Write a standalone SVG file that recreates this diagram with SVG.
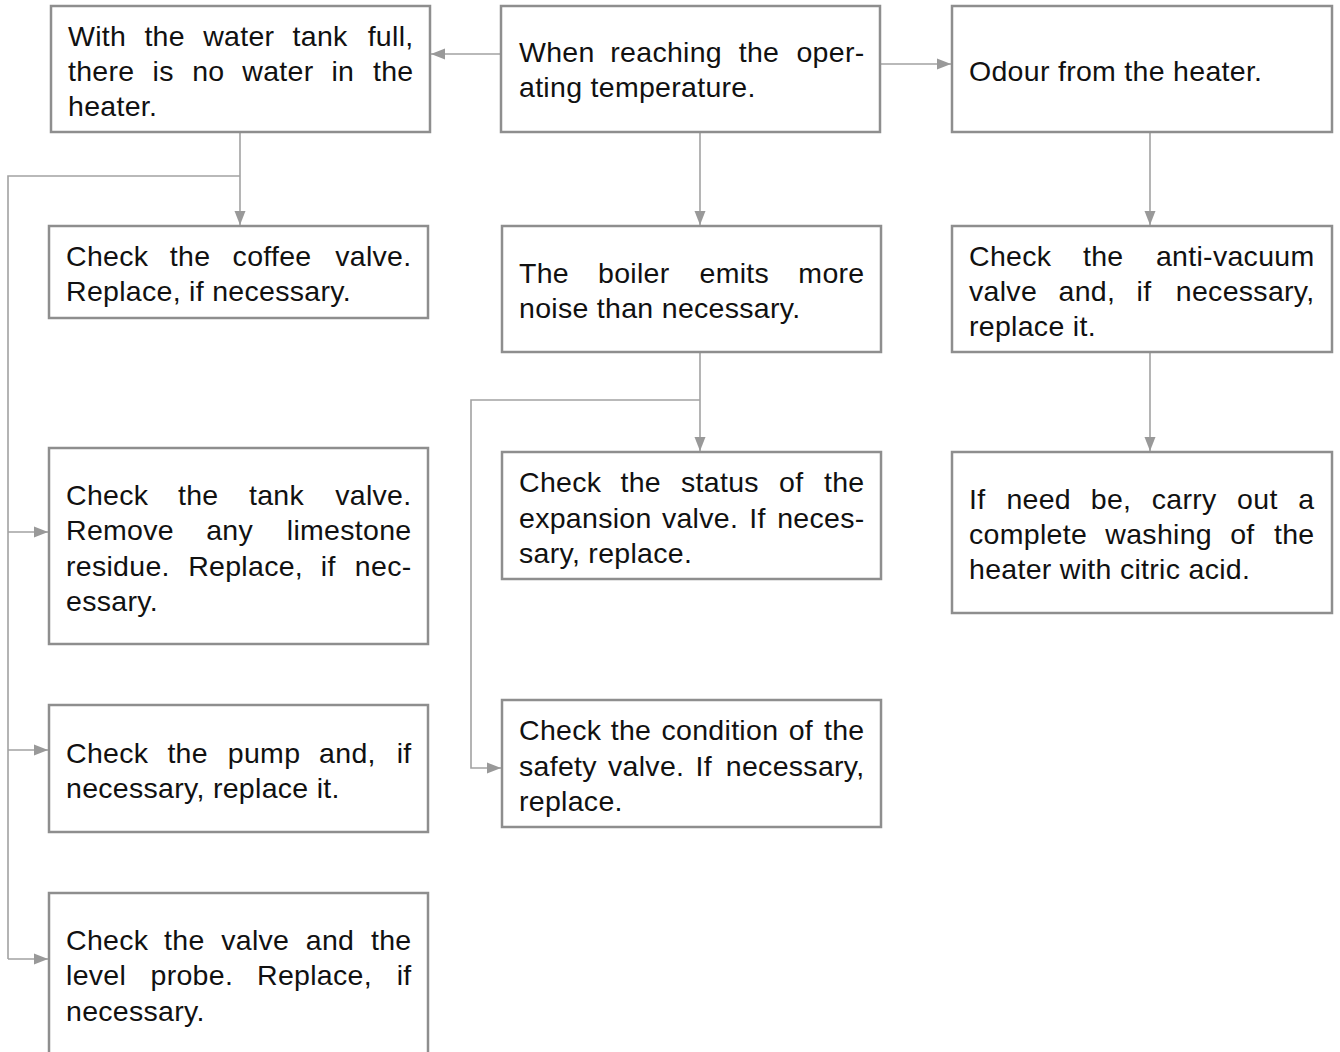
<svg xmlns="http://www.w3.org/2000/svg" width="1340" height="1052" viewBox="0 0 1340 1052">
<style>
.box{fill:#fff;stroke:#8e8e8e;stroke-width:2.5}
.ln{fill:none;stroke:#a2a2a2;stroke-width:1.6}
text{font-family:"Liberation Sans",Arial,sans-serif;font-size:28.5px;letter-spacing:0.3px;fill:#111}
.e{text-anchor:end}
</style>
<defs>
<marker id="ah" markerUnits="userSpaceOnUse" markerWidth="15" markerHeight="12" refX="14" refY="6" orient="auto">
<path d="M0,0.5 L14,6 L0,11.5 Z" fill="#999"/>
</marker>
</defs>
<rect width="1340" height="1052" fill="#fff"/>
<g id="connectors">
<path class="ln" d="M501,54 H431" marker-end="url(#ah)"/>
<path class="ln" d="M880,64 H951" marker-end="url(#ah)"/>
<path class="ln" d="M240,132 V225" marker-end="url(#ah)"/>
<path class="ln" d="M240,176 H8 V959"/>
<path class="ln" d="M8,532 H48" marker-end="url(#ah)"/>
<path class="ln" d="M8,750 H48" marker-end="url(#ah)"/>
<path class="ln" d="M8,959 H48" marker-end="url(#ah)"/>
<path class="ln" d="M700,132 V225" marker-end="url(#ah)"/>
<path class="ln" d="M700,352 V451" marker-end="url(#ah)"/>
<path class="ln" d="M700,400 H471 V768 H501" marker-end="url(#ah)"/>
<path class="ln" d="M1150,132 V225" marker-end="url(#ah)"/>
<path class="ln" d="M1150,352 V451" marker-end="url(#ah)"/>
</g>
<g id="nodeA">
<rect class="box" x="51" y="6" width="379" height="126"/>
<text><tspan x="68" y="46">With</tspan><tspan x="144.4" y="46">the</tspan><tspan x="203.2" y="46">water</tspan><tspan x="292.6" y="46">tank</tspan><tspan class="e" x="413.5" y="46">full,</tspan></text>
<text><tspan x="68" y="81">there</tspan><tspan x="152.6" y="81">is</tspan><tspan x="192.2" y="81">no</tspan><tspan x="242.3" y="81">water</tspan><tspan x="331.4" y="81">in</tspan><tspan class="e" x="413.5" y="81">the</tspan></text>
<text x="68" y="116">heater.</text>
</g>
<g id="nodeB">
<rect class="box" x="501" y="6" width="379" height="126"/>
<text><tspan x="519" y="62">When</tspan><tspan x="610.3" y="62">reaching</tspan><tspan x="738.7" y="62">the</tspan><tspan class="e" x="864.5" y="62">oper-</tspan></text>
<text x="519" y="97">ating temperature.</text>
</g>
<g id="nodeC">
<rect class="box" x="952" y="6" width="380" height="126"/>
<text x="969" y="81">Odour from the heater.</text>
</g>
<g id="nodeA2">
<rect class="box" x="49" y="226" width="379" height="92"/>
<text><tspan x="66" y="266">Check</tspan><tspan x="169.8" y="266">the</tspan><tspan x="232.6" y="266">coffee</tspan><tspan class="e" x="411.5" y="266">valve.</tspan></text>
<text x="66" y="301">Replace, if necessary.</text>
</g>
<g id="nodeB2">
<rect class="box" x="502" y="226" width="379" height="126"/>
<text><tspan x="519" y="283">The</tspan><tspan x="598" y="283">boiler</tspan><tspan x="699.5" y="283">emits</tspan><tspan class="e" x="864.5" y="283">more</tspan></text>
<text x="519" y="318">noise than necessary.</text>
</g>
<g id="nodeC2">
<rect class="box" x="952" y="226" width="380" height="126"/>
<text><tspan x="969" y="266">Check</tspan><tspan x="1083" y="266">the</tspan><tspan class="e" x="1314.5" y="266">anti-vacuum</tspan></text>
<text><tspan x="969" y="301">valve</tspan><tspan x="1058.5" y="301">and,</tspan><tspan x="1136.5" y="301">if</tspan><tspan class="e" x="1314.5" y="301">necessary,</tspan></text>
<text x="969" y="336">replace it.</text>
</g>
<g id="nodeA3">
<rect class="box" x="49" y="448" width="379" height="196"/>
<text><tspan x="66" y="505">Check</tspan><tspan x="178" y="505">the</tspan><tspan x="249" y="505">tank</tspan><tspan class="e" x="411.5" y="505">valve.</tspan></text>
<text><tspan x="66" y="540">Remove</tspan><tspan x="206.2" y="540">any</tspan><tspan class="e" x="411.5" y="540">limestone</tspan></text>
<text><tspan x="66" y="576">residue.</tspan><tspan x="188.2" y="576">Replace,</tspan><tspan x="320.8" y="576">if</tspan><tspan class="e" x="411.5" y="576">nec-</tspan></text>
<text x="66" y="611">essary.</text>
</g>
<g id="nodeB3">
<rect class="box" x="502" y="452" width="379" height="127"/>
<text><tspan x="519" y="492">Check</tspan><tspan x="620.5" y="492">the</tspan><tspan x="681" y="492">status</tspan><tspan x="779" y="492">of</tspan><tspan class="e" x="864.5" y="492">the</tspan></text>
<text><tspan x="519" y="528">expansion</tspan><tspan x="661.9" y="528">valve.</tspan><tspan x="749.2" y="528">If</tspan><tspan class="e" x="864.5" y="528">neces-</tspan></text>
<text x="519" y="563">sary, replace.</text>
</g>
<g id="nodeC3">
<rect class="box" x="952" y="452" width="380" height="161"/>
<text><tspan x="969" y="509">If</tspan><tspan x="1006.4" y="509">need</tspan><tspan x="1090.8" y="509">be,</tspan><tspan x="1151.7" y="509">carry</tspan><tspan x="1237.1" y="509">out</tspan><tspan class="e" x="1314.5" y="509">a</tspan></text>
<text><tspan x="969" y="544">complete</tspan><tspan x="1105.3" y="544">washing</tspan><tspan x="1230.2" y="544">of</tspan><tspan class="e" x="1314.5" y="544">the</tspan></text>
<text x="969" y="579">heater with citric acid.</text>
</g>
<g id="nodeA4">
<rect class="box" x="49" y="705" width="379" height="127"/>
<text><tspan x="66" y="763">Check</tspan><tspan x="167.4" y="763">the</tspan><tspan x="227.8" y="763">pump</tspan><tspan x="319.1" y="763">and,</tspan><tspan class="e" x="411.5" y="763">if</tspan></text>
<text x="66" y="798">necessary, replace it.</text>
</g>
<g id="nodeB4">
<rect class="box" x="502" y="700" width="379" height="127"/>
<text><tspan x="519" y="740">Check</tspan><tspan x="610.7" y="740">the</tspan><tspan x="661.5" y="740">condition</tspan><tspan x="788.7" y="740">of</tspan><tspan class="e" x="864.5" y="740">the</tspan></text>
<text><tspan x="519" y="776">safety</tspan><tspan x="608" y="776">valve.</tspan><tspan x="695.5" y="776">If</tspan><tspan class="e" x="864.5" y="776">necessary,</tspan></text>
<text x="519" y="811">replace.</text>
</g>
<g id="nodeA5">
<rect class="box" x="49" y="893" width="379" height="185"/>
<text><tspan x="66" y="950">Check</tspan><tspan x="164.1" y="950">the</tspan><tspan x="221.2" y="950">valve</tspan><tspan x="305.8" y="950">and</tspan><tspan class="e" x="411.5" y="950">the</tspan></text>
<text><tspan x="66" y="985">level</tspan><tspan x="150.5" y="985">probe.</tspan><tspan x="257" y="985">Replace,</tspan><tspan class="e" x="411.5" y="985">if</tspan></text>
<text x="66" y="1021">necessary.</text>
</g>
</svg>
